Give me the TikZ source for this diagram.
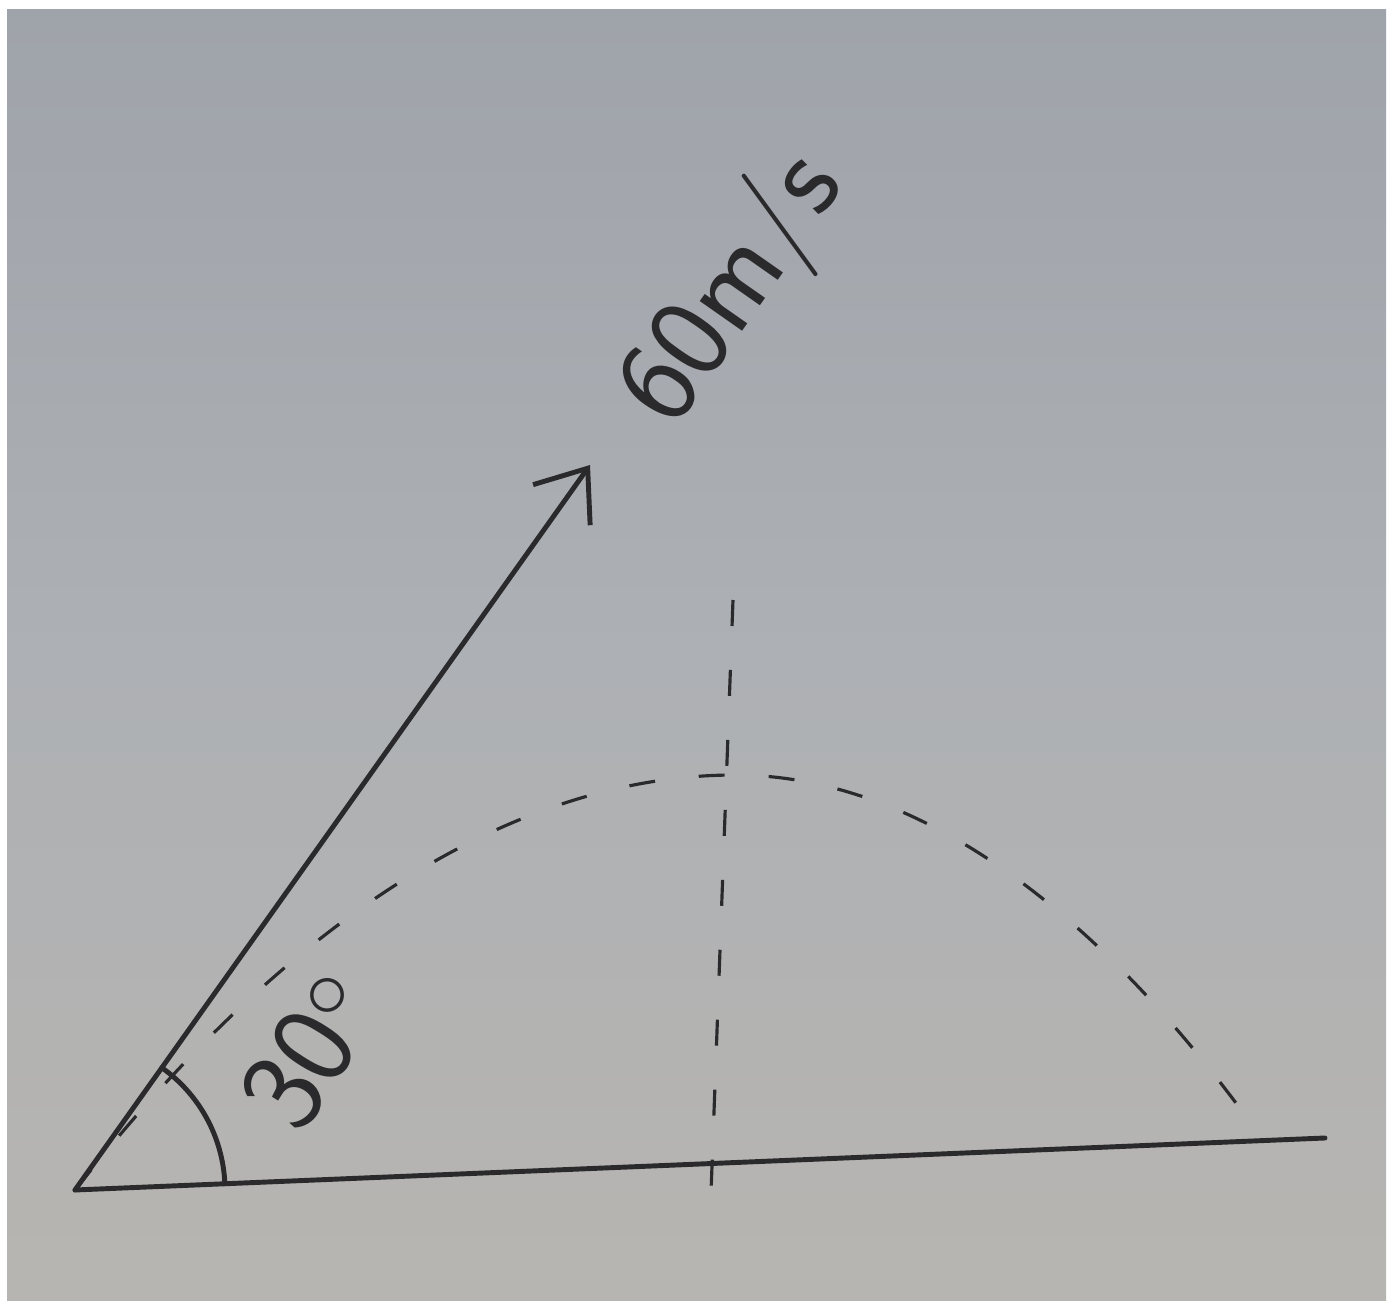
\documentclass[tikz,border=0pt]{standalone}
\usepackage{xcolor}
\usepackage{tikz}
\usetikzlibrary{arrows.meta,positioning,calc}
\definecolor{paper}{HTML}{ADB0B4}
\definecolor{papertop}{HTML}{9FA3AA}
\definecolor{paperlow}{HTML}{B7B5B1}
\definecolor{ink}{HTML}{2A2A2C}
\tikzset{
  pen/.style={draw=ink,line width=1.4pt,line cap=round},
  velarr/.style={pen,-{Straight Barb[length=4.5mm,width=7mm,line width=1.4pt]}},
  guide/.style={draw=ink,line width=0.9pt,dash pattern=on 2.6mm off 4.4mm},
  hand/.style={text=ink,font=\sffamily\fontsize{34}{38}\selectfont,inner sep=0pt}
}
\begin{document}
\begin{tikzpicture}
  \useasboundingbox (0,0) rectangle (13.9,13.12);
  \fill[white] (0,0) rectangle (13.9,13.12);
  \shade[top color=papertop,bottom color=paperlow,middle color=paper] (0.07,0.12) rectangle (13.86,13.02);
  \coordinate (o) at (0.75,1.22);
  \coordinate (gnd) at (13.25,1.74);
  \coordinate (tip) at (5.90,8.47);
  \coordinate (apex) at (7.35,5.37);
  \coordinate (land) at (12.45,1.97);
  \coordinate (vtop) at (7.33,7.12);
  \coordinate (vbot) at (7.10,0.92);
  \draw[pen] (o) -- (gnd);
  \draw[velarr] (o) -- (tip);
  \draw[pen] ($(o)+(2.4:1.5)$) arc[start angle=2.4,end angle=54.6,radius=1.5];
  \draw[guide] (o) parabola bend (apex) (land);
  \draw[guide] (vtop) -- (vbot);
  \node[hand,rotate=55] (speed) at (7.35,10.22) {60m/s};
  \node[hand,rotate=58] (ang) at (3.10,2.62) {30$^{\circ}$};
\end{tikzpicture}
\end{document}
